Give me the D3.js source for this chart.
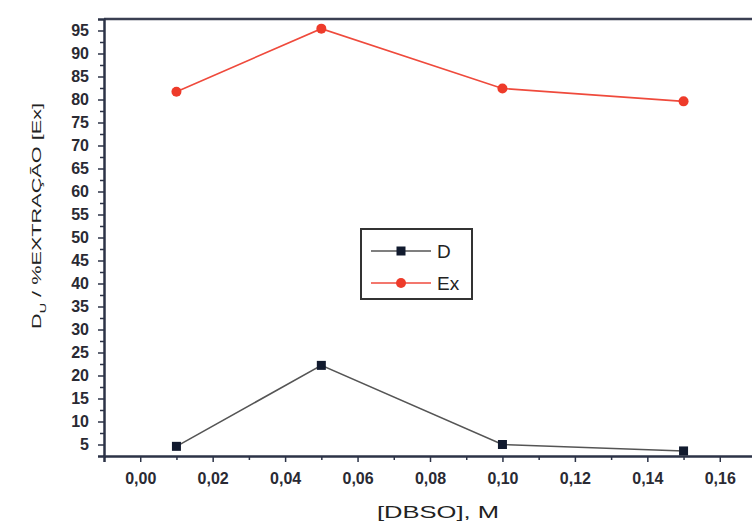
<!DOCTYPE html>
<html>
<head>
<meta charset="utf-8">
<script src="https://cdn.jsdelivr.net/npm/d3@7"></script>
<style>
  body { margin: 0; background: #fff; }
  svg { display: block; font-family: Arial, "Liberation Sans", sans-serif; }
</style>
</head>
<body>
<svg id="chart" width="752" height="522"></svg>
<script>
// data
var dbso = [0.01, 0.05, 0.10, 0.15];
var dValues = [4.6, 22.2, 5.0, 3.6];
var exValues = [81.7, 95.4, 82.4, 79.6];
var xTicks = [0, 0.02, 0.04, 0.06, 0.08, 0.10, 0.12, 0.14, 0.16];
var yTicks = [5, 10, 15, 20, 25, 30, 35, 40, 45, 50, 55, 60, 65, 70, 75, 80, 85, 90, 95];
var seriesNames = ["D", "Ex"];

var svg = d3.select("#chart"),
    plotLeft = 104, plotRight = 756, plotTop = 19, plotBottom = 456;

var x = d3.scaleLinear().domain([-0.01, 0.17]).range([plotLeft, plotRight]);
var y = d3.scaleLinear().domain([2.5, 97.5]).range([plotBottom, plotTop]);

var fmt = function (d) { return d3.format(".2f")(d).replace(".", ","); };

// frame top line
svg.append("line")
    .attr("x1", plotLeft).attr("x2", 752)
    .attr("y1", plotTop).attr("y2", plotTop)
    .attr("stroke", "#3a3f52").attr("stroke-width", 2.5);

// x axis
var xg = svg.append("g").attr("transform", "translate(0," + plotBottom + ")")
    .call(d3.axisBottom(x).tickValues(xTicks).tickFormat(fmt).tickSize(6).tickPadding(11));
svg.append("g").attr("transform", "translate(0," + plotBottom + ")")
    .call(d3.axisBottom(x).tickValues(d3.range(0.01, 0.17, 0.02)).tickFormat("").tickSize(4))
    .select(".domain").remove();

// y axis
var yg = svg.append("g").attr("transform", "translate(" + plotLeft + ",0)")
    .call(d3.axisLeft(y).tickValues(yTicks).tickSize(6).tickPadding(9));
svg.append("g").attr("transform", "translate(" + plotLeft + ",0)")
    .call(d3.axisLeft(y).tickValues(d3.range(7.5, 97.5, 5)).tickFormat("").tickSize(4))
    .select(".domain").remove();

svg.selectAll(".domain").attr("stroke", "#2c3347").attr("stroke-width", 2.5);
svg.selectAll(".tick line").attr("stroke", "#2c3347").attr("stroke-width", 1.5);
xg.attr("font-size", 16).attr("font-weight", "bold");
yg.attr("font-size", 16).attr("font-weight", "bold");
svg.selectAll(".tick text").attr("fill", "#2a2a33");

// axis titles
svg.append("text")
    .attr("x", 438).attr("y", 518)
    .attr("text-anchor", "middle").attr("font-size", 17).attr("fill", "#222")
    .attr("textLength", 122).attr("lengthAdjust", "spacingAndGlyphs")
    .text("[DBSO], M");

var yt = svg.append("text")
    .attr("transform", "translate(41,216) rotate(-90)")
    .attr("text-anchor", "middle").attr("font-size", 13.5).attr("fill", "#222")
    .attr("textLength", 226).attr("lengthAdjust", "spacingAndGlyphs");
yt.append("tspan").text("D");
yt.append("tspan").attr("font-size", 9).attr("dy", 5).text("U");
yt.append("tspan").attr("dy", -5).text(" / %EXTRAÇÃO [Ex]");

var line = d3.line().x(function (d) { return x(d[0]); }).y(function (d) { return y(d[1]); });

// D series
svg.append("path")
    .datum(d3.zip(dbso, dValues))
    .attr("d", line).attr("fill", "none")
    .attr("stroke", "#555").attr("stroke-width", 1.6);
svg.selectAll(".dpt").data(d3.zip(dbso, dValues)).enter().append("rect")
    .attr("class", "dpt")
    .attr("x", function (d) { return x(d[0]) - 4.5; })
    .attr("y", function (d) { return y(d[1]) - 4.5; })
    .attr("width", 9).attr("height", 9)
    .attr("fill", "#111a2e");

// Ex series
svg.append("path")
    .datum(d3.zip(dbso, exValues))
    .attr("d", line).attr("fill", "none")
    .attr("stroke", "#ef4a3c").attr("stroke-width", 1.6);
svg.selectAll(".ept").data(d3.zip(dbso, exValues)).enter().append("circle")
    .attr("class", "ept")
    .attr("cx", function (d) { return x(d[0]); })
    .attr("cy", function (d) { return y(d[1]); })
    .attr("r", 5)
    .attr("fill", "#ee3b2a");

// legend
var legend = svg.append("g").attr("transform", "translate(361,229)");
legend.append("rect")
    .attr("width", 111).attr("height", 70)
    .attr("fill", "#fff").attr("stroke", "#333").attr("stroke-width", 2);
seriesNames.forEach(function (name, i) {
    var ly = 22 + i * 32, color = i === 0 ? "#555" : "#ef4a3c";
    legend.append("line").attr("x1", 10).attr("x2", 70).attr("y1", ly).attr("y2", ly)
        .attr("stroke", color).attr("stroke-width", 1.6);
    if (i === 0) {
        legend.append("rect").attr("x", 35.5).attr("y", ly - 4.5).attr("width", 9).attr("height", 9)
            .attr("fill", "#111a2e");
    } else {
        legend.append("circle").attr("cx", 40).attr("cy", ly).attr("r", 5).attr("fill", "#ee3b2a");
    }
    legend.append("text").attr("x", 76).attr("y", ly + 7)
        .attr("font-size", 19).attr("fill", "#222").text(name);
});
</script>
</body>
</html>
